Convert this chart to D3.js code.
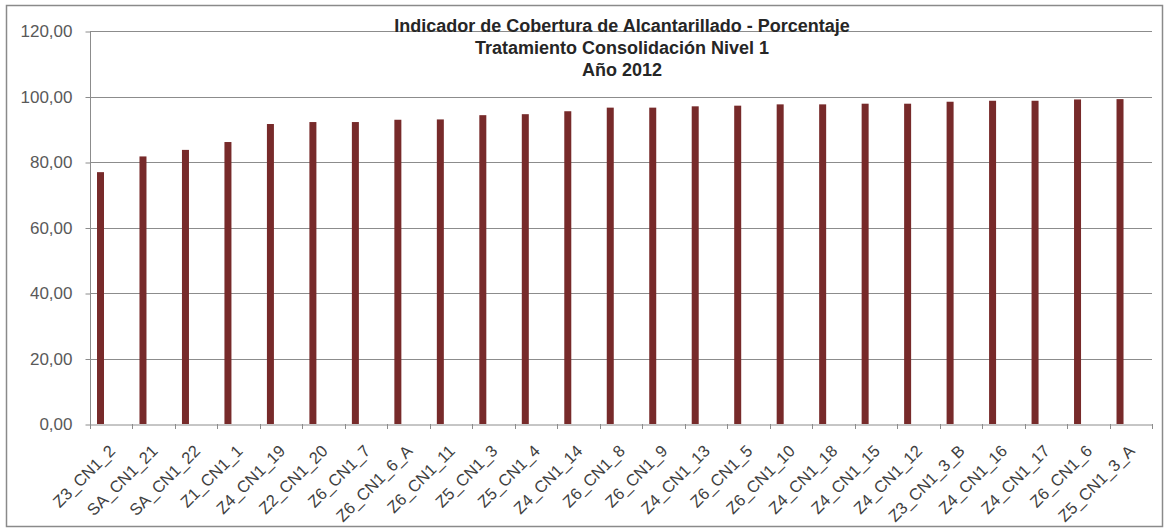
<!DOCTYPE html>
<html>
<head>
<meta charset="utf-8">
<script src="https://cdn.jsdelivr.net/npm/d3@7"></script>
<style>
  html, body { margin: 0; padding: 0; background: #ffffff; }
  svg { display: block; }
</style>
</head>
<body>
<svg id="chart" width="1167" height="531"></svg>
<script>
const categories = ["Z3_CN1_2","SA_CN1_21","SA_CN1_22","Z1_CN1_1","Z4_CN1_19","Z2_CN1_20","Z6_CN1_7","Z6_CN1_6_A","Z6_CN1_11","Z5_CN1_3","Z5_CN1_4","Z4_CN1_14","Z6_CN1_8","Z6_CN1_9","Z4_CN1_13","Z6_CN1_5","Z6_CN1_10","Z4_CN1_18","Z4_CN1_15","Z4_CN1_12","Z3_CN1_3_B","Z4_CN1_16","Z4_CN1_17","Z6_CN1_6","Z5_CN1_3_A"];
const values = [76.9, 81.7, 83.7, 86.1, 91.6, 92.2, 92.2, 92.9, 93.0, 94.3, 94.6, 95.5, 96.6, 96.6, 97.0, 97.2, 97.6, 97.6, 97.8, 97.8, 98.4, 98.7, 98.7, 99.1, 99.2];
const yTicks = [0, 20, 40, 60, 80, 100, 120];
const titleLines = ["Indicador de Cobertura de Alcantarillado - Porcentaje", "Tratamiento Consolidación Nivel 1", "Año 2012"];

(function () {
const svg = d3.select("#chart");
const pLeft = 90, pRight = 1152, pTop = 31, pBottom = 424;

// outer border
svg.append("rect").attr("x", 6.5).attr("y", 5.5).attr("width", 1156).attr("height", 521)
  .attr("fill", "#fff").attr("stroke", "#8a8a8a").attr("stroke-width", 1.5);

const x = d3.scaleBand().domain(categories).range([pLeft, pRight]).padding(0);
const y = d3.scaleLinear().domain([0, 120]).range([pBottom, pTop]);

const fmt = v => d3.format(".2f")(v).replace(".", ",");

// gridlines
svg.append("g").selectAll("line").data(yTicks.filter(t => t > 0)).join("line")
  .attr("x1", pLeft).attr("x2", pRight)
  .attr("y1", d => Math.round(y(d)) + 0.5).attr("y2", d => Math.round(y(d)) + 0.5)
  .attr("stroke", "#8c8c8c").attr("stroke-width", 1);

// y axis
const yAxis = svg.append("g").attr("transform", `translate(${pLeft + 0.5},0.5)`)
  .call(d3.axisLeft(y).tickValues(yTicks).tickSize(5).tickPadding(13).tickFormat(fmt));
yAxis.select(".domain").attr("stroke", "#8c8c8c").attr("d", `M0,${pTop - 0.5}V${pBottom}`);
yAxis.selectAll(".tick line").attr("stroke", "#8c8c8c");
yAxis.selectAll(".tick text").attr("fill", "#595959").attr("font-family", "Liberation Sans, Arial, sans-serif").attr("font-size", 17);

// bars
const barW = 7;
svg.append("g").selectAll("rect").data(categories).join("rect")
  .attr("x", d => x(d) + 7)
  .attr("width", barW)
  .attr("y", (d, i) => y(values[i]))
  .attr("height", (d, i) => y(0) - y(values[i]))
  .attr("fill", "#772a2a");

// x axis
const xAxis = svg.append("g").attr("transform", `translate(0,${Math.round(pBottom) + 0.5})`)
  .call(d3.axisBottom(x).tickSize(0).tickFormat(""));
xAxis.select(".domain").attr("stroke", "#8c8c8c");
// boundary ticks
svg.append("g").selectAll("line").data(d3.range(categories.length + 1)).join("line")
  .attr("x1", i => Math.round(pLeft + i * x.bandwidth()) + 0.5)
  .attr("x2", i => Math.round(pLeft + i * x.bandwidth()) + 0.5)
  .attr("y1", pBottom).attr("y2", pBottom + 5)
  .attr("stroke", "#8c8c8c");

// x labels
svg.append("g").selectAll("text").data(categories).join("text")
  .attr("transform", d => `translate(${x(d) + x.bandwidth() / 2 + 5},${pBottom + 28}) rotate(-45)`)
  .attr("text-anchor", "end")
  .attr("fill", "#404040")
  .attr("font-family", "Liberation Sans, Arial, sans-serif")
  .attr("font-size", 16.5)
  .text(d => d);

// title
svg.append("g").selectAll("text").data(titleLines).join("text")
  .attr("x", 622)
  .attr("y", (d, i) => 32 + i * 22)
  .attr("text-anchor", "middle")
  .attr("font-family", "Liberation Sans, Arial, sans-serif")
  .attr("font-weight", "bold")
  .attr("font-size", 18)
  .attr("fill", "#262626")
  .text(d => d);
})();
</script>
</body>
</html>
